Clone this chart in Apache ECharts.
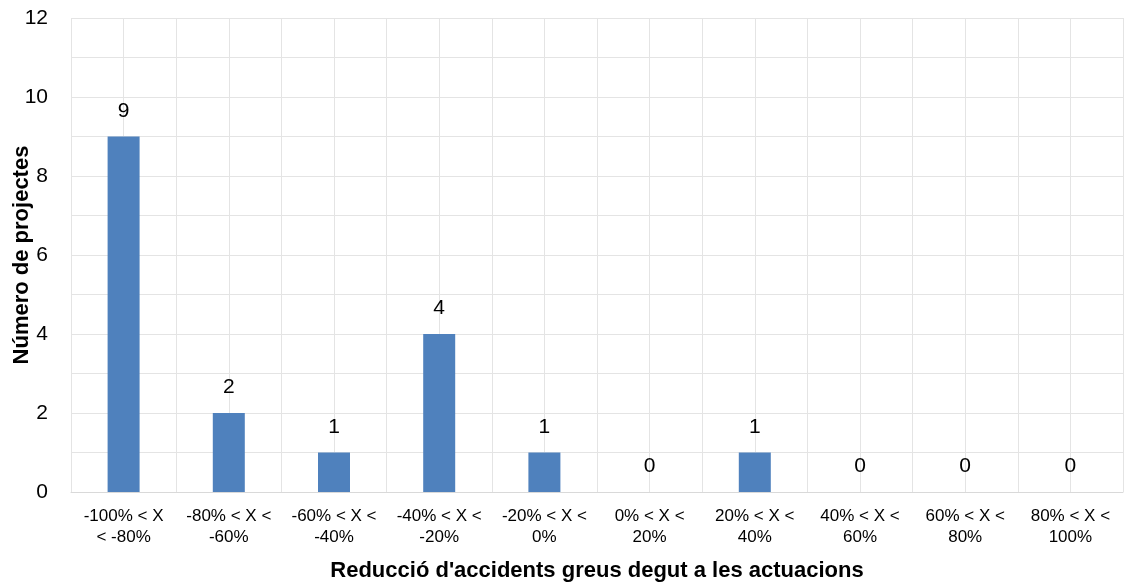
<!DOCTYPE html>
<html>
<head>
<meta charset="utf-8">
<script src="https://cdn.jsdelivr.net/npm/echarts@6/dist/echarts.min.js"></script>
<style>
  html, body { margin: 0; padding: 0; background: #fff; }
  #chart { width: 1125px; height: 583px; }
</style>
</head>
<body>
<div id="chart"></div>
<script>
// Reduction ranges (categories) and number of projects in each
const categories = [
  '-100% < X\n< -80%', '-80% < X <\n-60%', '-60% < X <\n-40%', '-40% < X <\n-20%',
  '-20% < X <\n0%', '0% < X <\n20%', '20% < X <\n40%', '40% < X <\n60%',
  '60% < X <\n80%', '80% < X <\n100%'
];
const projects = [9, 2, 1, 4, 1, 0, 1, 0, 0, 0];
const yTicks = [0, 2, 4, 6, 8, 10, 12];

const font = 'Liberation Sans, Arial, sans-serif';
const gridColor = '#e4e4e4';

const chart = echarts.init(document.getElementById('chart'));
chart.setOption({
  animation: false,
  grid: { left: 71, right: 2, top: 18, bottom: 91, containLabel: false, outerBoundsMode: 'none' },
  xAxis: [
    {
      type: 'category',
      data: categories,
      boundaryGap: true,
      axisLine: { show: true, lineStyle: { color: '#d9d9d9', width: 1 } },
      axisTick: { show: false },
      splitLine: { show: true, lineStyle: { color: gridColor, width: 1 } },
      axisLabel: {
        interval: 0, color: '#000', fontFamily: font, fontSize: 17,
        lineHeight: 21, margin: 14
      },
      name: "Reducció d'accidents greus degut a les actuacions",
      nameLocation: 'middle',
      nameMoveOverlap: false,
      nameGap: 68,
      nameTextStyle: { color: '#000', fontFamily: font, fontSize: 22, fontWeight: 'bold' }
    },
    {
      // half-category grid lines through each bar centre
      type: 'value', min: 0, max: 20, interval: 1, show: true,
      position: 'bottom',
      axisLine: { show: false }, axisTick: { show: false }, axisLabel: { show: false },
      splitLine: { show: true, lineStyle: { color: gridColor, width: 1 } }
    }
  ],
  yAxis: {
    type: 'value',
    min: 0, max: 12, interval: 2,
    axisLine: { show: false },
    axisTick: { show: false },
    axisLabel: {
      color: '#000', fontFamily: font, fontSize: 21, margin: 23,
      formatter: v => (yTicks.includes(v) ? String(v) : '')
    },
    splitLine: { show: true, lineStyle: { color: gridColor, width: 1 } },
    minorTick: { show: false, splitNumber: 2 },
    minorSplitLine: { show: true, lineStyle: { color: gridColor, width: 1 } },
    name: 'Número de projectes',
    nameLocation: 'middle',
    nameMoveOverlap: false,
    nameGap: 38,
    nameTextStyle: { color: '#000', fontFamily: font, fontSize: 22, fontWeight: 'bold' }
  },
  series: [{
    type: 'bar',
    xAxisIndex: 0,
    data: projects,
    barWidth: 32,
    itemStyle: { color: '#4f81bd' },
    z: 3,
    label: {
      show: true, position: 'top', distance: 15,
      color: '#000', fontFamily: font, fontSize: 21
    }
  }]
});
</script>
</body>
</html>
